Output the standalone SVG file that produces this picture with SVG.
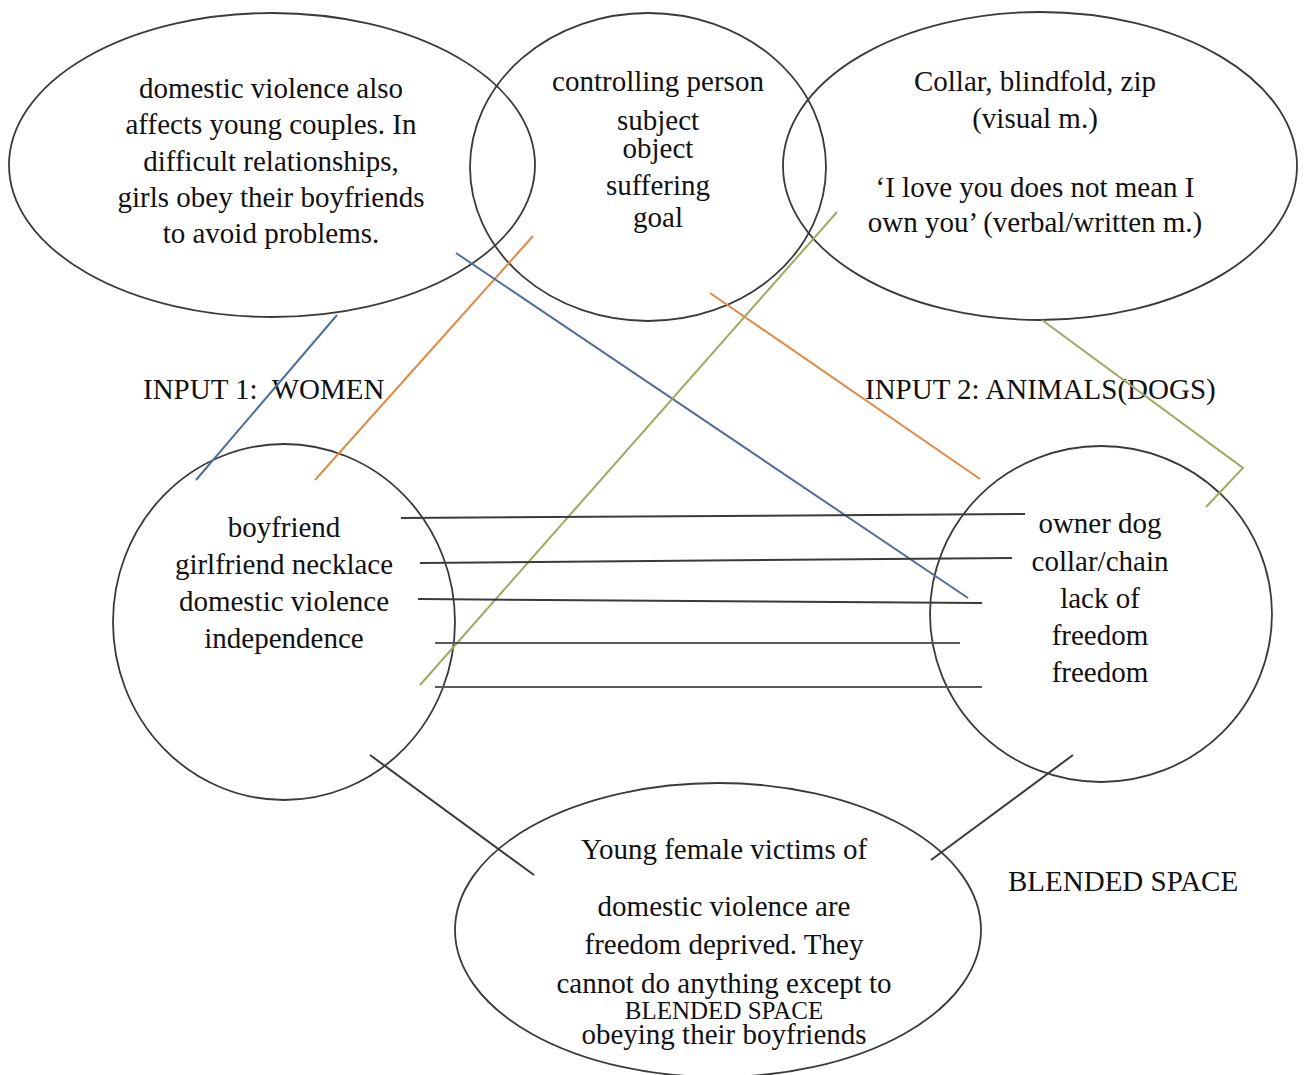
<svg xmlns="http://www.w3.org/2000/svg" width="1309" height="1075" viewBox="0 0 1309 1075">
<style>
.shape{fill:none;stroke:#3a3a3a;stroke-width:1.8}
.t{font-family:"Liberation Serif","Times New Roman",serif;font-size:29px;fill:#111;text-anchor:middle}
.lbl{font-family:"Liberation Serif","Times New Roman",serif;font-size:29px;fill:#111}
.k{stroke:#3a3a3a;stroke-width:2;fill:none}
.g{stroke:#5a5a5a;stroke-width:2.2;fill:none}
.blue{stroke:#4f6f99;stroke-width:2;fill:none}
.orange{stroke:#e08a45;stroke-width:2;fill:none}
.green{stroke:#9aaa62;stroke-width:2;fill:none}
</style>
<rect width="1309" height="1075" fill="#fff"/>
<g id="generic-women">
<ellipse class="shape" cx="272" cy="165" rx="263" ry="152"/>
<text class="t" x="271" y="98">domestic violence also</text>
<text class="t" x="271" y="134">affects young couples. In</text>
<text class="t" x="271" y="171">difficult relationships,</text>
<text class="t" x="271" y="207">girls obey their boyfriends</text>
<text class="t" x="271" y="243">to avoid problems.</text>
</g>
<g id="generic-space">
<ellipse class="shape" cx="648" cy="167" rx="178" ry="154"/>
<text class="t" x="658" y="91">controlling person</text>
<text class="t" x="658" y="130">subject</text>
<text class="t" x="658" y="158">object</text>
<text class="t" x="658" y="195">suffering</text>
<text class="t" x="658" y="227">goal</text>
</g>
<g id="generic-dogs">
<ellipse class="shape" cx="1040" cy="166" rx="257" ry="154"/>
<text class="t" x="1035" y="91">Collar, blindfold, zip</text>
<text class="t" x="1035" y="128">(visual m.)</text>
<text class="t" x="1035" y="197">‘I love you does not mean I</text>
<text class="t" x="1035" y="232">own you’ (verbal/written m.)</text>
</g>
<g id="input1">
<ellipse class="shape" cx="284" cy="622" rx="171" ry="178"/>
<text class="t" x="284" y="537">boyfriend</text>
<text class="t" x="284" y="574">girlfriend necklace</text>
<text class="t" x="284" y="611">domestic violence</text>
<text class="t" x="284" y="648">independence</text>
</g>
<g id="input2">
<ellipse class="shape" cx="1101" cy="614" rx="171" ry="168"/>
<text class="t" x="1100" y="533">owner dog</text>
<text class="t" x="1100" y="571">collar/chain</text>
<text class="t" x="1100" y="608">lack of</text>
<text class="t" x="1100" y="645">freedom</text>
<text class="t" x="1100" y="682">freedom</text>
</g>
<g id="blended">
<ellipse class="shape" cx="718" cy="930" rx="263" ry="147"/>
<text class="t" x="724" y="859">Young female victims of</text>
<text class="t" x="724" y="916">domestic violence are</text>
<text class="t" x="724" y="954">freedom deprived. They</text>
<text class="t" x="724" y="993">cannot do anything except to</text>
<text class="t" x="724" y="1019" style="font-size:25px">BLENDED SPACE</text>
<text class="t" x="724" y="1044">obeying their boyfriends</text>
</g>
<g id="labels">
<text class="lbl" x="143" y="399" xml:space="preserve">INPUT 1:  WOMEN</text>
<text class="lbl" x="865" y="399">INPUT 2: ANIMALS(DOGS)</text>
<text class="lbl" x="1008" y="891">BLENDED SPACE</text>
</g>
<g id="connectors">
<line class="blue" x1="337" y1="315" x2="196" y2="480"/>
<line class="orange" x1="533" y1="236" x2="315" y2="480"/>
<line class="blue" x1="456" y1="253" x2="968" y2="598"/>
<line class="green" x1="837" y1="212" x2="420" y2="685"/>
<line class="orange" x1="710" y1="293" x2="980" y2="479"/>
<polyline class="green" points="1042,320 1243,468 1206,507"/>
<line class="k" x1="401" y1="518" x2="1025" y2="514"/>
<line class="k" x1="420" y1="563" x2="1012" y2="558"/>
<line class="k" x1="418" y1="599" x2="982" y2="603"/>
<line class="g" x1="435" y1="643" x2="960" y2="643"/>
<line class="g" x1="435" y1="687" x2="982" y2="687"/>
<line class="k" x1="370" y1="755" x2="534" y2="875"/>
<line class="k" x1="1073" y1="755" x2="931" y2="860"/>
</g>
</svg>
